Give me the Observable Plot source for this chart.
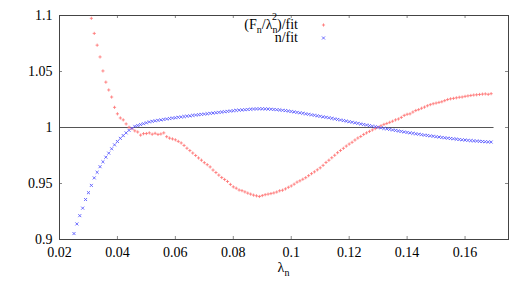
<!DOCTYPE html>
<html><head><meta charset="utf-8">
<script src="https://cdn.jsdelivr.net/npm/d3@7"></script>
<script src="https://cdn.jsdelivr.net/npm/@observablehq/plot@0.6"></script>
<style>body{margin:0;background:#fff} svg{display:block}</style>
</head><body><div id="chart"></div>
<script>
const lambda = [
0.025,0.026,0.027,0.028,0.029,0.030,0.031,0.032,0.033,0.034,
0.035,0.036,0.037,0.038,0.039,0.040,0.041,0.042,0.043,0.044,
0.045,0.046,0.047,0.048,0.049,0.050,0.051,0.052,0.053,0.054,
0.055,0.056,0.057,0.058,0.059,0.060,0.061,0.062,0.063,0.064,
0.065,0.066,0.067,0.068,0.069,0.070,0.071,0.072,0.073,0.074,
0.075,0.076,0.077,0.078,0.079,0.080,0.081,0.082,0.083,0.084,
0.085,0.086,0.087,0.088,0.089,0.090,0.091,0.092,0.093,0.094,
0.095,0.096,0.097,0.098,0.099,0.100,0.101,0.102,0.103,0.104,
0.105,0.106,0.107,0.108,0.109,0.110,0.111,0.112,0.113,0.114,
0.115,0.116,0.117,0.118,0.119,0.120,0.121,0.122,0.123,0.124,
0.125,0.126,0.127,0.128,0.129,0.130,0.131,0.132,0.133,0.134,
0.135,0.136,0.137,0.138,0.139,0.140,0.141,0.142,0.143,0.144,
0.145,0.146,0.147,0.148,0.149,0.150,0.151,0.152,0.153,0.154,
0.155,0.156,0.157,0.158,0.159,0.160,0.161,0.162,0.163,0.164,
0.165,0.166,0.167,0.168,0.169];

const ratioF = [
null,null,null,null,null,null,
1.0975,1.0840,1.0735,1.0630,1.0505,1.0405,1.0335,1.0272,1.0180,1.0122,
1.0085,1.0068,1.0032,1.0002,0.9990,0.9970,0.9960,0.9932,0.9945,0.9946,
0.9952,0.9940,0.9948,0.9938,0.9942,0.9952,0.9918,0.9905,0.9898,0.9890,
0.9876,0.9862,0.9840,0.9815,0.9794,0.9772,0.9750,0.9728,0.9708,0.9686,
0.9668,0.9648,0.9620,0.9598,0.9575,0.9553,0.9536,0.9518,0.9492,0.9470,
0.9458,0.9442,0.9436,0.9425,0.9414,0.9405,0.9396,0.9390,0.9384,0.9392,
0.9400,0.9405,0.9410,0.9416,0.9424,0.9435,0.9440,0.9452,0.9466,0.9478,
0.9494,0.9512,0.9524,0.9538,0.9552,0.9570,0.9588,0.9604,0.9622,0.9640,
0.9662,0.9688,0.9708,0.9730,0.9752,0.9775,0.9795,0.9814,0.9834,0.9852,
0.9868,0.9888,0.9906,0.9920,0.9938,0.9952,0.9965,0.9978,0.9990,1.0002,
1.0015,1.0028,1.0036,1.0046,1.0056,1.0068,1.0076,1.0090,1.0108,1.0118,
1.0122,1.0138,1.0152,1.0160,1.0172,1.0182,1.0194,1.0204,1.0212,1.0218,
1.0224,1.0230,1.0240,1.0250,1.0256,1.0260,1.0265,1.0270,1.0272,1.0278,
1.0282,1.0286,1.0290,1.0292,1.0295,1.0298,1.0300,1.0296,1.0302];

const ratioN = [
0.9053,0.9139,0.9213,0.9280,0.9357,0.9418,0.9483,0.9550,0.9600,0.9650,
0.9694,0.9735,0.9771,0.9810,0.9845,0.9875,0.9903,0.9928,0.9952,0.9975,
0.9993,1.0010,1.0018,1.0026,1.0034,1.0042,1.0050,1.0055,1.0060,1.0064,
1.0068,1.0072,1.0076,1.0080,1.0084,1.0087,1.0091,1.0094,1.0098,1.0101,
1.0104,1.0108,1.0111,1.0114,1.0117,1.0120,1.0123,1.0126,1.0129,1.0132,
1.0135,1.0138,1.0141,1.0144,1.0147,1.0150,1.0153,1.0155,1.0157,1.0159,
1.0161,1.0163,1.0165,1.0166,1.0167,1.0167,1.0166,1.0165,1.0163,1.0161,
1.0159,1.0157,1.0154,1.0151,1.0147,1.0143,1.0139,1.0135,1.0131,1.0127,
1.0122,1.0118,1.0113,1.0109,1.0104,1.0100,1.0095,1.0091,1.0087,1.0082,
1.0077,1.0072,1.0067,1.0062,1.0057,1.0052,1.0047,1.0042,1.0037,1.0032,
1.0027,1.0022,1.0017,1.0012,1.0007,1.0002,0.9997,0.9992,0.9988,0.9983,
0.9978,0.9974,0.9969,0.9965,0.9960,0.9956,0.9952,0.9948,0.9944,0.9940,
0.9936,0.9932,0.9929,0.9925,0.9922,0.9918,0.9915,0.9911,0.9908,0.9905,
0.9902,0.9899,0.9896,0.9893,0.9890,0.9888,0.9885,0.9883,0.9881,0.9879,
0.9877,0.9875,0.9873,0.9871,0.9870];

const xTicks = [0.02,0.04,0.06,0.08,0.1,0.12,0.14,0.16];
const xTickLabels = ["0.02","0.04","0.06","0.08","0.1","0.12","0.14","0.16"];
const yTicks = [0.9,0.95,1,1.05,1.1];
const yTickLabels = ["0.9","0.95","1","1.05","1.1"];
const refLine = [{y: 1, x1: 0.02, x2: 0.17}];

const redColor = "#ff7070";
const blueColor = "#5c5cff";

const rows = lambda.map((l, i) => ({l, f: ratioF[i], n: ratioN[i]}));

const W = 532, H = 295, mL = 59, mR = 24, mT = 15, mB = 56;
const innerW = W - mL - mR, innerH = H - mT - mB, tick = 3;

const plot = Plot.plot({
  width: W, height: H,
  marginLeft: mL, marginRight: mR, marginTop: mT, marginBottom: mB,
  style: {fontFamily: "'Liberation Serif', serif", fontSize: "14px", color: "#000", background: "#fff"},
  x: {domain: [0.02, 0.175], ticks: xTicks, tickSize: 0, tickPadding: 8,
      tickFormat: d => xTickLabels[xTicks.indexOf(d)], label: null},
  y: {domain: [0.9, 1.1], ticks: yTicks, tickSize: 0, tickPadding: 7,
      tickFormat: d => yTickLabels[yTicks.indexOf(d)], label: null},
  marks: [
    Plot.ruleX(xTicks, {stroke: "#888", insetTop: innerH - tick}),
    Plot.ruleX(xTicks, {stroke: "#888", insetBottom: innerH - tick}),
    Plot.ruleY(yTicks, {stroke: "#888", insetRight: innerW - tick}),
    Plot.ruleY(yTicks, {stroke: "#888", insetLeft: innerW - tick}),
    Plot.ruleY(refLine, {y: "y", x1: "x1", x2: "x2", stroke: "#555"}),
    Plot.dot(rows.filter(d => d.f != null), {x: "l", y: "f", symbol: "plus", r: 1.1, fill: "none", stroke: redColor, strokeWidth: 0.8}),
    Plot.dot(rows, {x: "l", y: "n", symbol: "times", r: 1.5, fill: "none", stroke: blueColor, strokeWidth: 0.9}),
    Plot.frame({stroke: "#444"})
  ]
});

const svg = d3.select(plot);
const g = svg.append("g").attr("font-family", "'Liberation Serif', serif").attr("font-size", 14).attr("fill", "#000");

// legend
const t1 = g.append("text").attr("x", 298).attr("y", 28.5).attr("text-anchor", "end");
t1.append("tspan").text("(F");
t1.append("tspan").attr("dy", 4).attr("font-size", 10).text("n");
t1.append("tspan").attr("dy", -4).text("/λ");
t1.append("tspan").attr("dy", 4).attr("font-size", 10).text("n");
t1.append("tspan").attr("dx", -5.5).attr("dy", -12.5).attr("font-size", 10).text("2");
t1.append("tspan").attr("dy", 8.5).text(")/fit");
g.append("text").attr("x", 298).attr("y", 41.5).attr("text-anchor", "end").text("n/fit");

g.append("path").attr("transform", "translate(323.5,25)")
  .attr("d", d3.symbol(d3.symbolPlus, Math.PI * 1.1 * 1.1)())
  .attr("fill", "none").attr("stroke", redColor).attr("stroke-width", 0.8);
g.append("path").attr("transform", "translate(323.5,38)")
  .attr("d", d3.symbol(d3.symbolTimes, Math.PI * 1.5 * 1.5)())
  .attr("fill", "none").attr("stroke", blueColor).attr("stroke-width", 0.9);

// x label
const xl = g.append("text").attr("x", 283.5).attr("y", 272).attr("text-anchor", "middle");
xl.append("tspan").text("λ");
xl.append("tspan").attr("dy", 4).attr("font-size", 10).text("n");

document.getElementById("chart").appendChild(plot);
</script>
</body></html>
